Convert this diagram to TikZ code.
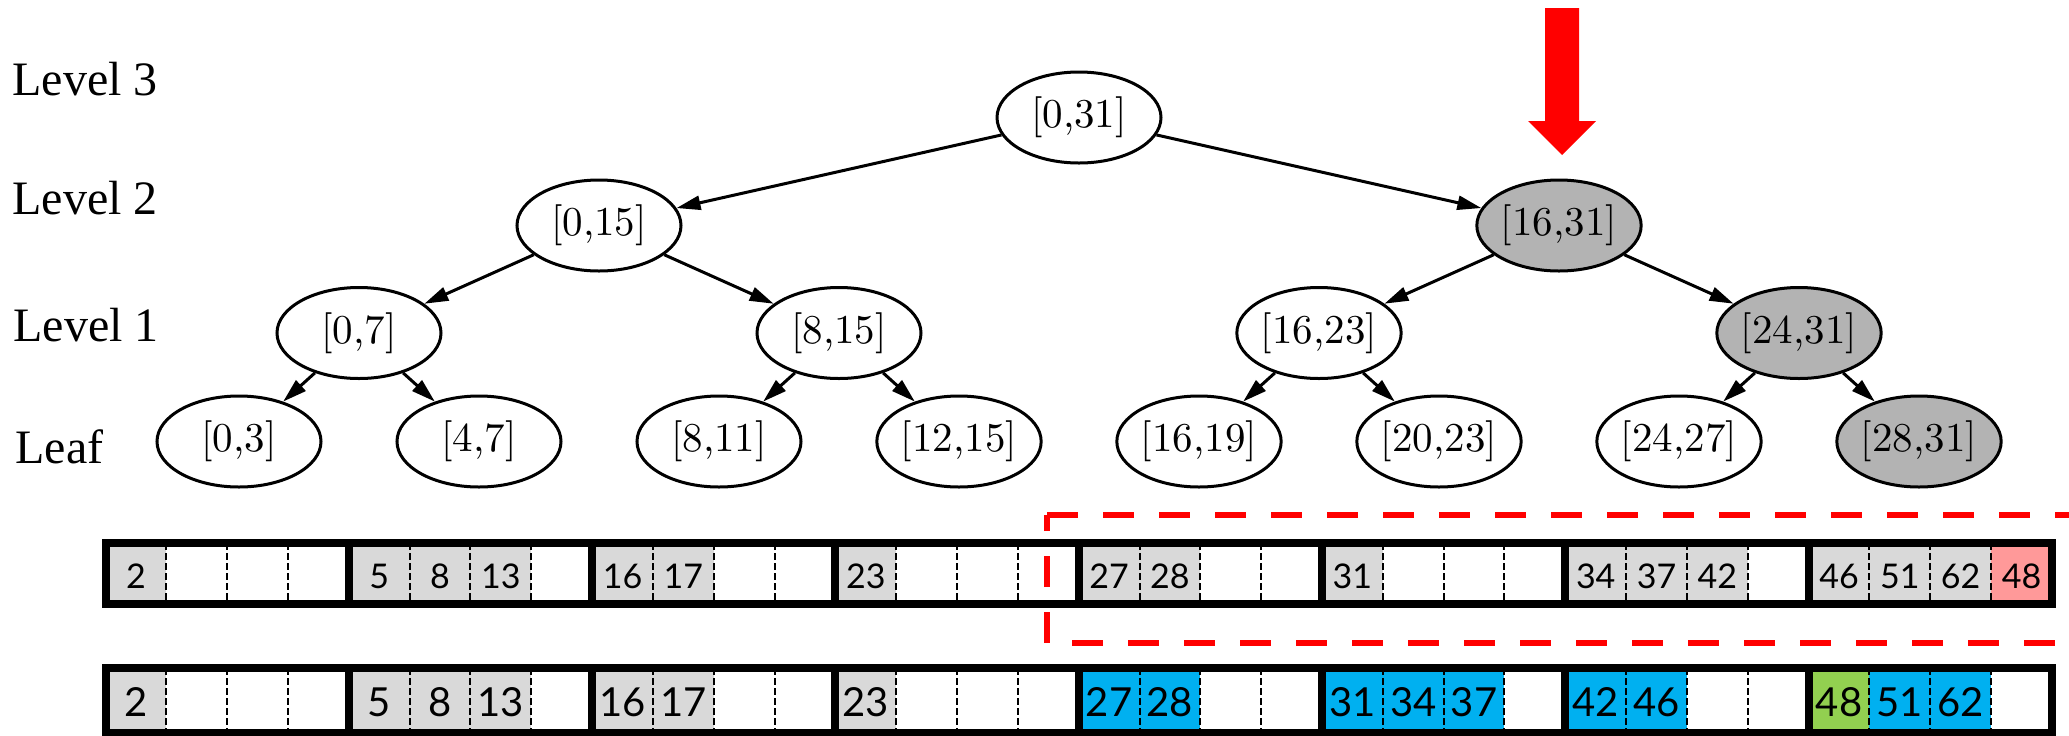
\documentclass[tikz,border=0pt]{standalone}
\usepackage{fontspec}
\newfontfamily\lvlfont{Liberation Serif}
\newfontfamily\cellfont{Lato}
\newfontfamily\nodefont{lmroman10-regular}[Extension=.otf]
\usetikzlibrary{arrows.meta,shapes.geometric}
\definecolor{cellgray}{HTML}{D9D9D9}
\definecolor{cellblue}{HTML}{00B0F0}
\definecolor{cellgreen}{HTML}{92D050}
\definecolor{cellpink}{HTML}{FF9999}
\definecolor{nodegray}{HTML}{B3B3B3}

\begin{document}
\begin{tikzpicture}[x=0.5pt,y=-0.5pt,
  tn/.style={draw,ellipse,line width=1.5pt,minimum width=82pt,minimum height=45.5pt,
    inner sep=0pt,font=\nodefont\fontsize{20.5}{24}\selectfont},
  tnhit/.style={tn,fill=nodegray},
  tedge/.style={line width=1.5pt,-{Triangle[length=12pt,width=7pt]}},
  lvl/.style={anchor=base west,inner sep=0pt,font=\lvlfont\fontsize{24}{28}\selectfont},
  cellA/.style={inner sep=0pt,font=\cellfont\fontsize{17}{19}\selectfont},
  cellB/.style={inner sep=0pt,font=\cellfont\fontsize{20}{22}\selectfont},
  divline/.style={line width=1pt,dash pattern=on 3.5pt off 1.5pt},
  blockbox/.style={line width=4pt},
  redbox/.style={red,line width=3.3pt,dash pattern=on 15.5pt off 12.5pt}]

\clip (0,0) rectangle (2069,735);

% level labels
\node[lvl] (l3) at (12,95)  {Level 3};
\node[lvl] (l2) at (12,214) {Level 2};
\node[lvl] (l1) at (13,341) {Level 1};
\node[lvl] (l0) at (15,463) {Leaf};

% interval tree
\node[tn]    (r)  at (1079,117.5) {{[0,31]}};
\node[tn]    (a)  at (599,225.5)  {{[0,15]}};
\node[tnhit] (b)  at (1559,225.5) {{[16,31]}};
\node[tn]    (c0) at (359,333)    {{[0,7]}};
\node[tn]    (c1) at (839,333)    {{[8,15]}};
\node[tn]    (c2) at (1319,333)   {{[16,23]}};
\node[tnhit] (c3) at (1799,333)   {{[24,31]}};
\node[tn]    (d0) at (239,441.5)  {{[0,3]}};
\node[tn]    (d1) at (479,441.5)  {{[4,7]}};
\node[tn]    (d2) at (719,441.5)  {{[8,11]}};
\node[tn]    (d3) at (959,441.5)  {{[12,15]}};
\node[tn]    (d4) at (1199,441.5) {{[16,19]}};
\node[tn]    (d5) at (1439,441.5) {{[20,23]}};
\node[tn]    (d6) at (1679,441.5) {{[24,27]}};
\node[tnhit] (d7) at (1919,441.5) {{[28,31]}};

\draw[tedge] (r) -- (a);
\draw[tedge] (r) -- (b);
\draw[tedge] (a) -- (c0);
\draw[tedge] (a) -- (c1);
\draw[tedge] (b) -- (c2);
\draw[tedge] (b) -- (c3);
\draw[tedge] (c0) -- (d0);
\draw[tedge] (c0) -- (d1);
\draw[tedge] (c1) -- (d2);
\draw[tedge] (c1) -- (d3);
\draw[tedge] (c2) -- (d4);
\draw[tedge] (c2) -- (d5);
\draw[tedge] (c3) -- (d6);
\draw[tedge] (c3) -- (d7);

% insertion pointer
\fill[red] (1545,8) -- (1579,8) -- (1579,121) -- (1596,121) -- (1562,155)
  -- (1528,121) -- (1545,121) -- cycle;

% first array
\foreach \k/\v/\c in {0/2/cellgray,4/5/cellgray,5/8/cellgray,6/13/cellgray,
    8/16/cellgray,9/17/cellgray,12/23/cellgray,16/27/cellgray,17/28/cellgray,
    20/31/cellgray,24/34/cellgray,25/37/cellgray,26/42/cellgray,
    28/46/cellgray,29/51/cellgray,30/62/cellgray,31/48/cellpink}{
  \fill[\c] ({105.5+60.825*\k},543) rectangle +(60.825,60.5);
  \node[cellA] (u\k) at ({105.5+60.825*(\k+0.5)},576) {\v};
}
\foreach \b in {0,...,7}{
  \foreach \j in {1,2,3}
    \draw[divline] ({105.5+243.3*\b+60.825*\j},543) -- +(0,60.5);
  \draw[blockbox] ({105.5+243.3*\b},543) rectangle +(243.3,60.5);
}

% second array
\foreach \k/\v/\c in {0/2/cellgray,4/5/cellgray,5/8/cellgray,6/13/cellgray,
    8/16/cellgray,9/17/cellgray,12/23/cellgray,16/27/cellblue,17/28/cellblue,
    20/31/cellblue,21/34/cellblue,22/37/cellblue,24/42/cellblue,25/46/cellblue,
    28/48/cellgreen,29/51/cellblue,30/62/cellblue}{
  \fill[\c] ({105.5+60.825*\k},668) rectangle +(60.825,65);
  \node[cellB] (w\k) at ({105.5+60.825*(\k+0.5)},702) {\v};
}
\foreach \b in {0,...,7}{
  \foreach \j in {1,2,3}
    \draw[divline] ({105.5+243.3*\b+60.825*\j},668) -- +(0,65);
  \draw[blockbox] ({105.5+243.3*\b},668) rectangle +(243.3,65);
}

% highlighted range
\coordinate (bl) at (1047,643);
\coordinate (tl) at (1047,515);
\coordinate (tr) at (2090,515);
\coordinate (br) at (2090,643);
\draw[redbox] (bl) -- (tl);
\draw[redbox] (tl) -- (tr);
\draw[redbox,dash phase=15.5pt] (bl) -- (br);
\end{tikzpicture}
\end{document}
